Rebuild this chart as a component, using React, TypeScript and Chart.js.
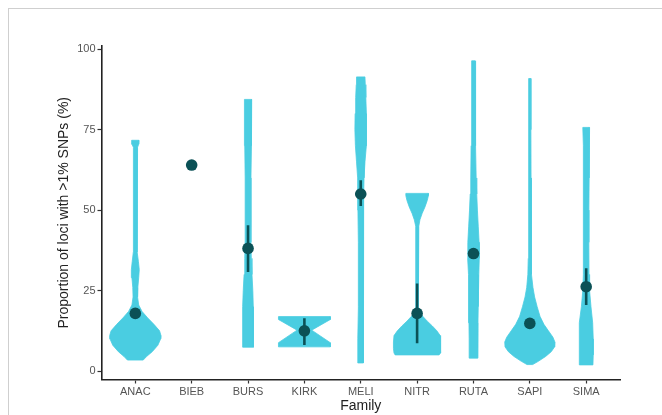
import React, { useEffect, useRef } from "react";
import { Chart, registerables } from "chart.js";

Chart.register(...registerables);

const families = ["ANAC", "BIEB", "BURS", "KIRK", "MELI", "NITR", "RUTA", "SAPI", "SIMA"];
const yTicks = [0, 25, 50, 75, 100];

const meanValues = [17.9, 64.0, 38.1, 12.5, 55.0, 17.9, 36.5, 14.8, 26.2];
const errLow = [16.8, 64.0, 30.8, 8.1, 51.3, 8.6, 35.2, 14.0, 20.5];
const errHigh = [19.0, 64.0, 45.3, 16.4, 59.3, 27.2, 37.8, 15.6, 31.9];

// violin density outlines: y levels and half widths (in category units)
const anacY = [3.4, 4.5, 6, 8, 10, 11, 12.5, 14.5, 16.5, 18.5, 20.5, 23, 26, 29, 31.5, 34, 37, 45, 55, 62, 66, 69.5, 70.5, 71.7];
const anacW = [0.14, 0.2, 0.3, 0.4, 0.45, 0.455, 0.43, 0.33, 0.22, 0.12, 0.06, 0.04, 0.045, 0.06, 0.07, 0.055, 0.035, 0.03, 0.03, 0.033, 0.035, 0.04, 0.06, 0.065];
const biebY: number[] = [];
const biebW: number[] = [];
const bursY = [7.4, 10, 15, 20, 25, 30, 35, 40, 50, 60, 70, 80, 84.4];
const bursW = [0.095, 0.097, 0.097, 0.093, 0.085, 0.07, 0.058, 0.052, 0.05, 0.052, 0.058, 0.063, 0.065];
const kirkY = [7.5, 8.8, 12.7, 16, 16.9];
const kirkW = [0.46, 0.46, 0.13, 0.46, 0.46];
const meliY = [2.5, 5, 10, 20, 30, 40, 50, 55, 60, 65, 70, 75, 80, 85, 89, 91.4];
const meliW = [0.05, 0.055, 0.05, 0.042, 0.04, 0.045, 0.05, 0.052, 0.058, 0.075, 0.095, 0.104, 0.1, 0.09, 0.08, 0.075];
const nitrY = [5, 5.6, 7, 9, 11, 12.5, 14, 15.5, 17, 18.5, 20, 30, 40, 45, 47, 49, 51, 53, 54.5, 55.2];
const nitrW = [0.39, 0.41, 0.42, 0.42, 0.41, 0.35, 0.27, 0.18, 0.1, 0.04, 0.025, 0.022, 0.022, 0.03, 0.05, 0.09, 0.14, 0.18, 0.2, 0.2];
const rutaY = [4, 6, 10, 15, 20, 25, 30, 35, 40, 45, 50, 55, 60, 70, 80, 90, 96.4];
const rutaW = [0.07, 0.075, 0.078, 0.08, 0.082, 0.087, 0.095, 0.103, 0.1, 0.085, 0.07, 0.058, 0.048, 0.042, 0.037, 0.032, 0.028];
const sapiY = [2, 3, 4.5, 6, 7.5, 9, 10.5, 12.5, 14.5, 17, 20, 23, 26, 30, 35, 45, 60, 75, 85, 90.9];
const sapiW = [0.05, 0.15, 0.28, 0.38, 0.44, 0.445, 0.41, 0.33, 0.25, 0.18, 0.13, 0.085, 0.055, 0.035, 0.028, 0.025, 0.022, 0.02, 0.018, 0.018];
const simaY = [1.9, 5, 10, 15, 20, 25, 30, 40, 50, 60, 70, 75.7];
const simaW = [0.12, 0.125, 0.125, 0.115, 0.085, 0.06, 0.05, 0.047, 0.048, 0.05, 0.055, 0.06];

const violinY = [anacY, biebY, bursY, kirkY, meliY, nitrY, rutaY, sapiY, simaY];
const violinW = [anacW, biebW, bursW, kirkW, meliW, nitrW, rutaW, sapiW, simaW];

const VIOLIN = "#4ACDE1";
const DARK = "#0B5156";
const FONT = "'Liberation Sans', Arial, sans-serif";

export default function App() {
  const ref = useRef<HTMLCanvasElement | null>(null);

  useEffect(() => {
    if (!ref.current) return;
    const datasets: any[] = [];

    families.forEach((_, i) => {
      const ys = violinY[i];
      const ws = violinW[i];
      if (ys.length === 0) return;
      const pts: { x: number; y: number }[] = [];
      for (let k = 0; k < ys.length; k++) pts.push({ x: i - ws[k], y: ys[k] });
      for (let k = ys.length - 1; k >= 0; k--) pts.push({ x: i + ws[k], y: ys[k] });
      pts.push({ x: i - ws[0], y: ys[0] });
      datasets.push({
        data: pts,
        showLine: true,
        fill: "shape",
        backgroundColor: VIOLIN,
        borderColor: VIOLIN,
        borderWidth: 0.8,
        pointRadius: 0,
        tension: 0,
        order: 3,
      });
    });

    families.forEach((_, i) => {
      if (errHigh[i] - errLow[i] < 0.01) return;
      datasets.push({
        data: [
          { x: i, y: errLow[i] },
          { x: i, y: errHigh[i] },
        ],
        showLine: true,
        fill: false,
        borderColor: DARK,
        borderWidth: 2.6,
        pointRadius: 0,
        order: 2,
      });
    });

    datasets.push({
      data: families.map((_, i) => ({ x: i, y: meanValues[i] })),
      showLine: false,
      pointRadius: 5.8,
      pointBackgroundColor: DARK,
      pointBorderColor: DARK,
      pointBorderWidth: 0,
      order: 1,
    });

    const chart = new Chart(ref.current, {
      type: "scatter",
      data: { datasets },
      options: {
        animation: false,
        responsive: false,
        maintainAspectRatio: false,
        layout: { padding: { left: 48, right: 42, top: 46, bottom: 0 } },
        plugins: { legend: { display: false }, tooltip: { enabled: false } },
        scales: {
          x: {
            type: "linear",
            min: -0.6,
            max: 8.6,
            afterBuildTicks: (scale: any) => {
              scale.ticks = families.map((_, i) => ({ value: i }));
            },
            afterFit: (scale: any) => {
              scale.height = 35.5;
            },
            ticks: {
              callback: (v: any) => families[Math.round(Number(v))] ?? "",
              color: "#555",
              font: { family: FONT, size: 11 },
              padding: 2,
              maxRotation: 0,
              autoSkip: false,
            },
            grid: {
              display: true,
              drawOnChartArea: false,
              drawTicks: true,
              tickLength: 4,
              tickColor: "#333",
              tickWidth: 1.2,
            },
            border: { display: true, color: "#222", width: 1.6 },
            title: {
              display: true,
              text: "Family",
              color: "#222",
              font: { family: FONT, size: 14 },
              padding: { top: 0, bottom: 0 },
            },
          },
          y: {
            type: "linear",
            min: -2.64,
            max: 101.0,
            afterBuildTicks: (scale: any) => {
              scale.ticks = yTicks.map((v) => ({ value: v }));
            },
            afterFit: (scale: any) => {
              scale.width = 53.5;
            },
            ticks: {
              color: "#555",
              font: { family: FONT, size: 11 },
              padding: 2,
            },
            grid: {
              display: true,
              drawOnChartArea: false,
              drawTicks: true,
              tickLength: 4,
              tickColor: "#333",
              tickWidth: 1.2,
            },
            border: { display: true, color: "#222", width: 1.6 },
            title: {
              display: true,
              text: "Proportion of loci with >1% SNPs (%)",
              color: "#222",
              font: { family: FONT, size: 14 },
              padding: { top: 7.6, bottom: 0 },
            },
          },
        },
      },
    });
    return () => chart.destroy();
  }, []);

  return (
    <div style={{ position: "fixed", left: 0, top: 0, width: 662, height: 415, overflow: "hidden", background: "#fff" }}>
      <div
        style={{
          position: "absolute",
          left: 8,
          top: 8,
          width: 670,
          height: 420,
          borderTop: "1px solid #cfcfcf",
          borderLeft: "1px solid #cfcfcf",
        }}
      />
      <canvas ref={ref} width={662} height={415} style={{ position: "absolute", left: 0, top: 0, width: 662, height: 415 }} />
    </div>
  );
}
